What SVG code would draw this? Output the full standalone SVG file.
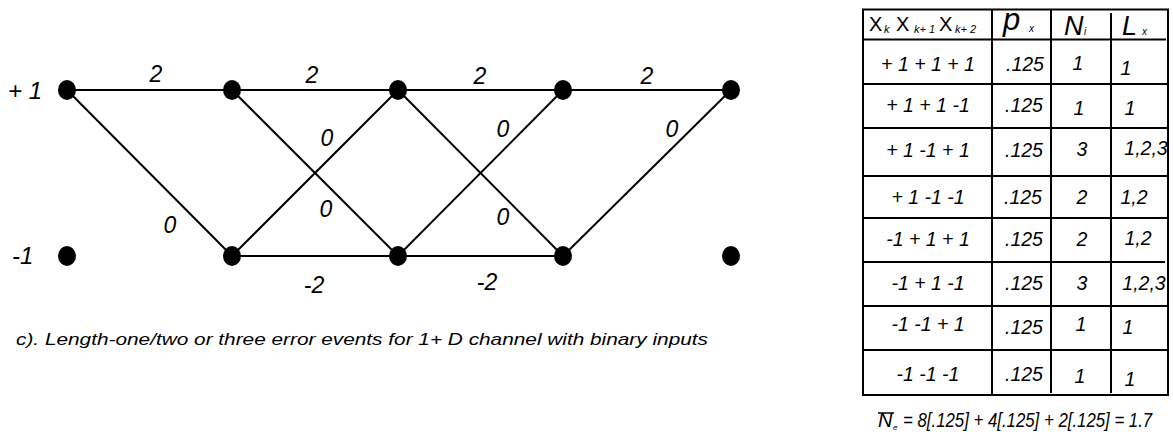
<svg xmlns="http://www.w3.org/2000/svg" width="1173" height="444" viewBox="0 0 1173 444">
  <style>
    .t { font-family: "Liberation Sans", Arial, sans-serif; font-style: italic; fill: #000; }
    .up { font-family: "Liberation Sans", Arial, sans-serif; fill: #000; }
    .lbl { font-size: 23px; text-anchor: middle; }
    .cell { font-size: 19.5px; text-anchor: middle; }
    .edge { stroke: #000; stroke-width: 2; fill: none; }
    .grid { stroke: #000; stroke-width: 2; fill: none; }
    .node { fill: #000; }
  </style>
  <rect width="1173" height="444" fill="#fff"/>

  <!-- trellis branches -->
  <g id="connectors">
    <line class="edge" x1="67" y1="90" x2="232" y2="90"/>
    <line class="edge" x1="67" y1="90" x2="232" y2="256"/>
    <line class="edge" x1="232" y1="90" x2="398" y2="90"/>
    <line class="edge" x1="232" y1="90" x2="398" y2="256"/>
    <line class="edge" x1="232" y1="256" x2="398" y2="90"/>
    <line class="edge" x1="232" y1="256" x2="398" y2="256"/>
    <line class="edge" x1="398" y1="90" x2="563" y2="90"/>
    <line class="edge" x1="398" y1="90" x2="563" y2="256"/>
    <line class="edge" x1="398" y1="256" x2="563" y2="90"/>
    <line class="edge" x1="398" y1="256" x2="563" y2="256"/>
    <line class="edge" x1="563" y1="90" x2="731" y2="90"/>
    <line class="edge" x1="563" y1="256" x2="731" y2="90"/>
  </g>

  <!-- branch labels -->
  <g id="branch-labels" class="t lbl">
    <text x="156" y="82">2</text>
    <text x="312" y="83">2</text>
    <text x="480" y="84">2</text>
    <text x="647" y="84">2</text>
    <text x="170" y="233">0</text>
    <text x="327" y="146">0</text>
    <text x="326" y="217">0</text>
    <text x="503" y="137">0</text>
    <text x="503" y="225">0</text>
    <text x="672" y="137">0</text>
    <text x="314" y="293">-2</text>
    <text x="487" y="290">-2</text>
  </g>

  <!-- state labels -->
  <g id="state-labels" class="t" font-size="24">
    <text x="8" y="99">+ 1</text>
    <text x="12" y="264">-1</text>
  </g>

  <!-- trellis states -->
  <g id="n0p"><ellipse class="node" cx="67" cy="90" rx="9" ry="10"/></g>
  <g id="n0m"><ellipse class="node" cx="67" cy="256" rx="9" ry="10"/></g>
  <g id="n1p"><ellipse class="node" cx="232" cy="90" rx="9" ry="10"/></g>
  <g id="n1m"><ellipse class="node" cx="232" cy="256" rx="9" ry="10"/></g>
  <g id="n2p"><ellipse class="node" cx="398" cy="90" rx="9" ry="10"/></g>
  <g id="n2m"><ellipse class="node" cx="398" cy="256" rx="9" ry="10"/></g>
  <g id="n3p"><ellipse class="node" cx="563" cy="90" rx="9" ry="10"/></g>
  <g id="n3m"><ellipse class="node" cx="563" cy="256" rx="9" ry="10"/></g>
  <g id="n4p"><ellipse class="node" cx="731" cy="90" rx="9" ry="10"/></g>
  <g id="n4m"><ellipse class="node" cx="731" cy="256" rx="9" ry="10"/></g>

  <!-- caption -->
  <text class="t" x="16" y="345" font-size="17" textLength="692" lengthAdjust="spacingAndGlyphs">c). Length-one/two or three error events for 1+ D channel with binary inputs</text>

  <!-- error event table -->
  <g id="table">
    <rect class="grid" x="863" y="9.5" width="305" height="385.5"/>
    <line class="grid" x1="992" y1="9.5" x2="992" y2="395"/>
    <line class="grid" x1="1051" y1="9.5" x2="1051" y2="393"/>
    <line class="grid" x1="1111" y1="13" x2="1111" y2="393"/>
    <line class="grid" x1="863" y1="39.5" x2="1166" y2="39.5"/>
    <line class="grid" x1="863" y1="84" x2="1168" y2="84"/>
    <line class="grid" x1="863" y1="128" x2="1168" y2="128"/>
    <line class="grid" x1="863" y1="176" x2="1168" y2="176"/>
    <line class="grid" x1="863" y1="218" x2="1168" y2="218"/>
    <line class="grid" x1="863" y1="262" x2="1165" y2="262"/>
    <line class="grid" x1="863" y1="306" x2="1168" y2="306"/>
    <line class="grid" x1="863" y1="350" x2="1168" y2="350"/>

    <!-- header -->
    <g id="table-header">
      <text class="up" x="869" y="31" font-size="20">X</text>
      <text class="t" x="884" y="33" font-size="11">k</text>
      <text class="up" x="896" y="31" font-size="20">X</text>
      <text class="t" x="914" y="33" font-size="11">k+ 1</text>
      <text class="up" x="939" y="31" font-size="20">X</text>
      <text class="t" x="955" y="33" font-size="11">k+ 2</text>
      <text class="t" x="1003" y="30" font-size="31">p</text>
      <text class="t" x="1029" y="32" font-size="10">x</text>
      <text class="t" x="1064" y="35" font-size="27">N</text>
      <text class="t" x="1084" y="35" font-size="10">i</text>
      <text class="t" x="1122" y="35" font-size="27">L</text>
      <text class="t" x="1142" y="35" font-size="10">x</text>
    </g>

    <!-- rows -->
    <g id="table-rows" class="t cell">
      <text x="928" y="71">+ 1 + 1 + 1</text>
      <text x="1025" y="71">.125</text>
      <text x="1078" y="70">1</text>
      <text x="1126" y="75">1</text>

      <text x="928" y="112">+ 1 + 1 -1</text>
      <text x="1024" y="112">.125</text>
      <text x="1079" y="115">1</text>
      <text x="1130" y="115">1</text>

      <text x="928" y="157">+ 1 -1 + 1</text>
      <text x="1024" y="157">.125</text>
      <text x="1082" y="156">3</text>
      <text x="1146" y="155">1,2,3</text>

      <text x="928" y="204">+ 1 -1 -1</text>
      <text x="1023" y="204">.125</text>
      <text x="1082" y="204">2</text>
      <text x="1134" y="204">1,2</text>

      <text x="928" y="246">-1 + 1 + 1</text>
      <text x="1024" y="246">.125</text>
      <text x="1082" y="246">2</text>
      <text x="1138" y="245">1,2</text>

      <text x="928" y="290">-1 + 1 -1</text>
      <text x="1024" y="290">.125</text>
      <text x="1082" y="290">3</text>
      <text x="1144" y="290">1,2,3</text>

      <text x="928" y="331">-1 -1 + 1</text>
      <text x="1024" y="334">.125</text>
      <text x="1081" y="331">1</text>
      <text x="1128" y="334">1</text>

      <text x="928" y="381">-1 -1 -1</text>
      <text x="1024" y="381">.125</text>
      <text x="1080" y="383">1</text>
      <text x="1130" y="386">1</text>
    </g>
  </g>

  <!-- average number of error events -->
  <g id="formula">
    <text class="t" x="878" y="427" font-size="20">N</text>
    <line x1="878" y1="413" x2="894" y2="413" stroke="#000" stroke-width="1.5"/>
    <text class="t" x="893" y="430" font-size="8">e</text>
    <text class="t" transform="translate(903 427) scale(0.84 1)" font-size="20">= 8[.125] + 4[.125] + 2[.125] = 1.7</text>
  </g>
</svg>
